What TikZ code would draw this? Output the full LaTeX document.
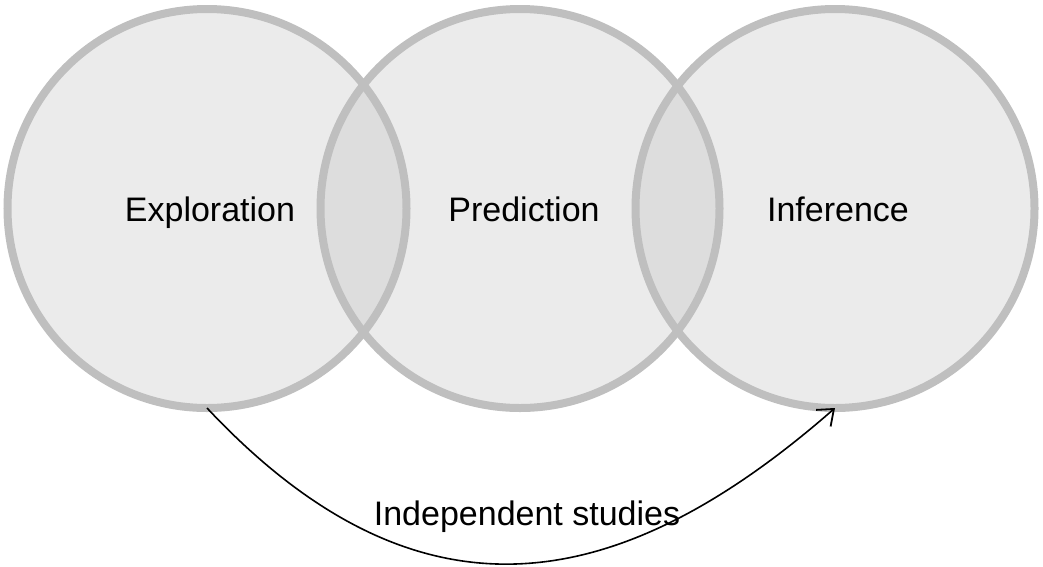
\documentclass[tikz,border=0pt]{standalone}
\usepackage{fontspec}
\setmainfont{Liberation Sans}
\usetikzlibrary{arrows.meta}
\definecolor{fillc}{HTML}{EBEBEB}
\definecolor{overc}{HTML}{DDDDDD}
\definecolor{strokec}{HTML}{BFBFBF}
\begin{document}
\begin{tikzpicture}[x=1pt,y=-1pt,
  circ/.style={circle,minimum size=399pt,inner sep=0pt,outer sep=0pt,fill=fillc,draw=none},
  ring/.style={draw=strokec,line width=8pt},
  lbl/.style={font=\fontsize{34}{40}\selectfont,inner sep=0pt,anchor=base},
  conn/.style={line width=1.6pt,-{Straight Barb[length=14pt,width=22pt,line width=1.8pt]}}]
\useasboundingbox (0,0) rectangle (1043,566);
\node[circ] (E) at (207,208.5) {};
\node[circ] (P) at (520,208.5) {};
\node[circ] (I) at (835,208.5) {};
\begin{scope}
  \clip (E.center) circle[radius=199.5];
  \fill[overc] (P.center) circle[radius=199.5];
\end{scope}
\begin{scope}
  \clip (P.center) circle[radius=199.5];
  \fill[overc] (I.center) circle[radius=199.5];
\end{scope}
\foreach \c in {E,P,I} \draw[ring] (\c.center) circle[radius=199.5];
\node[lbl] (tE) at (210,221) {Exploration};
\node[lbl] (tP) at (524,221) {Prediction};
\node[lbl] (tI) at (838,221) {Inference};
\node[lbl] (tS) at (527,525) {Independent studies};
\draw[conn] (E.south) .. controls (420,635) and (620,596) .. (I.south);
\end{tikzpicture}
\end{document}
